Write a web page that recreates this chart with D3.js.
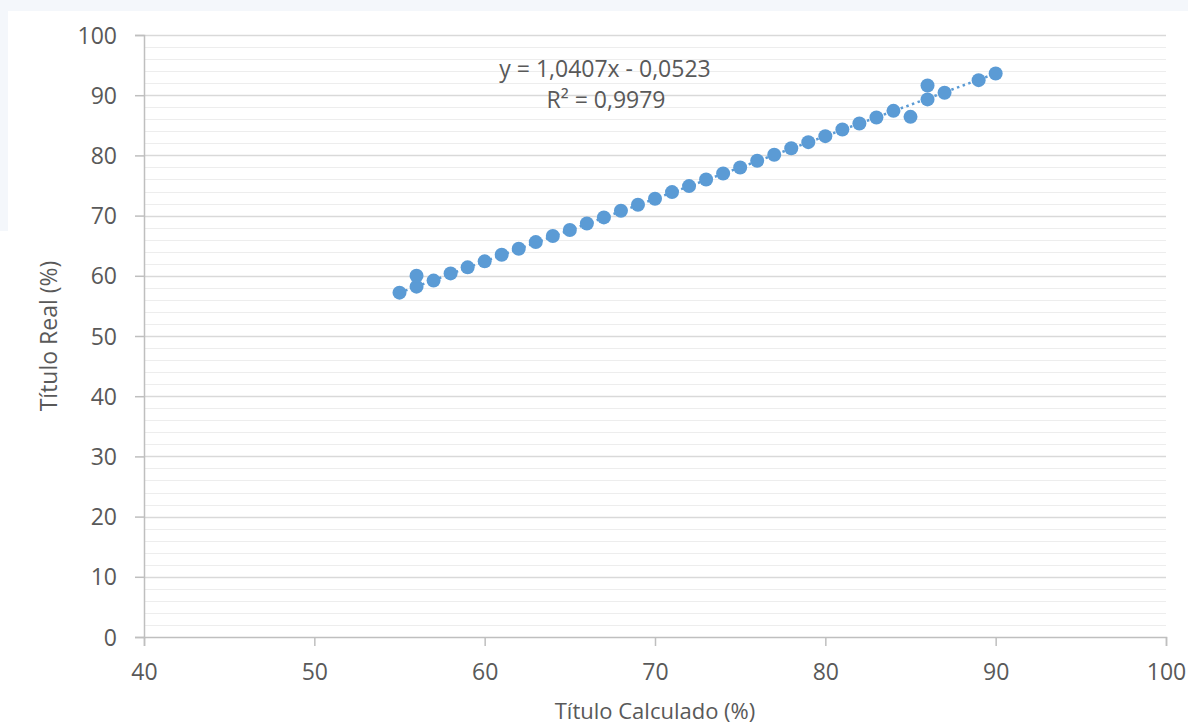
<!DOCTYPE html>
<html>
<head>
<meta charset="utf-8">
<script src="https://cdn.jsdelivr.net/npm/d3@7"></script>
<style>
  body { margin: 0; background: #fff; }
  svg { display: block; font-family: "Open Sans", sans-serif; }
</style>
</head>
<body>
<svg id="chart" width="1188" height="727"></svg>
<script>
// data
const calcX = [55, 56, 56, 57, 58, 59, 60, 61, 62, 63, 64, 65, 66, 67, 68, 69, 70, 71, 72,
  73, 74, 75, 76, 77, 78, 79, 80, 81, 82, 83, 84, 85, 86, 86, 87, 89, 90];
const realY = [57.2, 58.2, 60.0, 59.2, 60.4, 61.4, 62.4, 63.5, 64.5, 65.6, 66.6, 67.6, 68.7,
  69.7, 70.8, 71.8, 72.8, 73.9, 74.9, 76.0, 77.0, 78.0, 79.1, 80.1, 81.2, 82.2, 83.2, 84.3,
  85.3, 86.3, 87.4, 86.4, 89.3, 91.6, 90.4, 92.5, 93.6];
const xTicks = [40, 50, 60, 70, 80, 90, 100];
const yTicks = [0, 10, 20, 30, 40, 50, 60, 70, 80, 90, 100];
const slope = 1.0407, intercept = -0.0523;
const eqLabel = "y = 1,0407x - 0,0523";
const r2Label = "R² = 0,9979";

const svg = d3.select("#chart");
const W = 1188, H = 727;
const margin = { top: 35, right: 22, bottom: 90, left: 144 };
const width = W - margin.left - margin.right,
  height = H - margin.top - margin.bottom;
const textColor = "#595959";
const blue = "#5b9bd5";

// page background strips
svg.append("rect").attr("width", W).attr("height", H).attr("fill", "#fff");
svg.append("rect").attr("width", W).attr("height", 11).attr("fill", "#f4f7fb");
svg.append("rect").attr("y", 11).attr("width", 8).attr("height", 220).attr("fill", "#f4f7fb");

const g = svg.append("g")
  .attr("transform", "translate(" + margin.left + "," + margin.top + ")");

const x = d3.scaleLinear().domain([40, 100]).range([0, width]);
const y = d3.scaleLinear().domain([0, 100]).range([height, 0]);

// minor gridlines every 2
g.append("g")
  .selectAll("line")
  .data(d3.range(0, 101, 2).filter(d => d % 10 !== 0))
  .join("line")
  .attr("x1", 0).attr("x2", width)
  .attr("y1", d => Math.round(y(d)) + 0.5).attr("y2", d => Math.round(y(d)) + 0.5)
  .attr("stroke", "#ededed").attr("stroke-width", 1);

// major gridlines
g.append("g")
  .selectAll("line")
  .data(yTicks.filter(d => d > 0))
  .join("line")
  .attr("x1", 0).attr("x2", width)
  .attr("y1", d => Math.round(y(d)) + 0.5).attr("y2", d => Math.round(y(d)) + 0.5)
  .attr("stroke", "#d9d9d9").attr("stroke-width", 1.5);

// x axis
const xAxis = g.append("g")
  .attr("transform", "translate(0," + height + ")")
  .call(d3.axisBottom(x).tickValues(xTicks).tickSize(9).tickPadding(18));
// y axis
const yAxis = g.append("g")
  .call(d3.axisLeft(y).tickValues(yTicks).tickSize(9).tickPadding(18));

[xAxis, yAxis].forEach(a => {
  a.select(".domain").attr("stroke", "#bfbfbf").attr("stroke-width", 1.5);
  a.selectAll(".tick line").attr("stroke", "#bfbfbf").attr("stroke-width", 1.5);
  a.selectAll(".tick text")
    .attr("fill", textColor)
    .style("font-size", "23px")
    .style("font-family", "'Open Sans', sans-serif");
});
yAxis.selectAll(".tick text").attr("dy", "0.35em");

// trendline (dotted)
const xs = d3.extent(calcX);
g.append("line")
  .attr("x1", x(xs[0])).attr("y1", y(slope * xs[0] + intercept))
  .attr("x2", x(xs[1])).attr("y2", y(slope * xs[1] + intercept))
  .attr("stroke", blue)
  .attr("stroke-width", 2.5)
  .attr("stroke-dasharray", "2.5,3.5");

// points
g.append("g")
  .selectAll("circle")
  .data(calcX.map((d, i) => [d, realY[i]]))
  .join("circle")
  .attr("cx", d => x(d[0]))
  .attr("cy", d => y(d[1]))
  .attr("r", 7)
  .attr("fill", blue);

// equation
svg.append("text")
  .attr("x", 605).attr("y", 77)
  .attr("text-anchor", "middle")
  .attr("fill", textColor)
  .style("font-size", "23px")
  .text(eqLabel);
svg.append("text")
  .attr("x", 606).attr("y", 108)
  .attr("text-anchor", "middle")
  .attr("fill", textColor)
  .style("font-size", "23px")
  .text(r2Label);

// axis titles
svg.append("text")
  .attr("x", margin.left + width / 2).attr("y", 719)
  .attr("text-anchor", "middle")
  .attr("fill", textColor)
  .style("font-size", "22px")
  .text("Título Calculado (%)");

svg.append("text")
  .attr("transform", "translate(57," + (margin.top + height / 2) + ") rotate(-90)")
  .attr("text-anchor", "middle")
  .attr("fill", textColor)
  .style("font-size", "23px")
  .text("Título Real (%)");
</script>
</body>
</html>
